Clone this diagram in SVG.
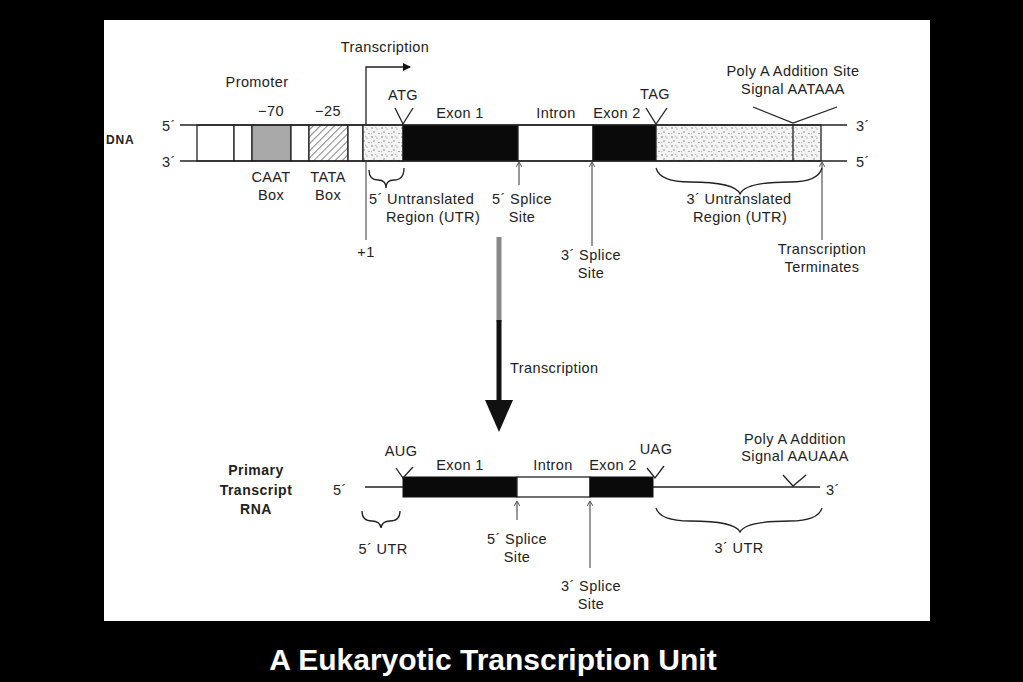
<svg xmlns="http://www.w3.org/2000/svg" width="1023" height="682" viewBox="0 0 1023 682">
<defs>
<style>
text{font-family:"Liberation Sans",Arial,sans-serif;font-size:14.5px;letter-spacing:0.4px;fill:#222}
.c{text-anchor:middle}
.b{font-weight:bold}
.ln{stroke:#222;stroke-width:1.3;fill:none}
.thin{stroke:#333;stroke-width:1;fill:none}
.blk{fill:#0a0a0a;stroke:#111}
.wht{fill:#fff;stroke:#222;stroke-width:1.3}
</style>
<pattern id="stip" width="10" height="9" patternUnits="userSpaceOnUse">
<rect width="10" height="9" fill="#f4f4f4"/>
<circle cx="2" cy="2" r="0.7" fill="#555"/><circle cx="7" cy="3" r="0.6" fill="#777"/>
<circle cx="4" cy="6" r="0.7" fill="#666"/><circle cx="9" cy="7.5" r="0.6" fill="#555"/>
<path d="M5 1 l1.5 0.8 M1 8 l1.2-0.8" stroke="#888" stroke-width="0.6"/>
</pattern>
<pattern id="hatch" width="5" height="5" patternUnits="userSpaceOnUse" patternTransform="rotate(45)">
<rect width="5" height="5" fill="#fff"/><line x1="0" y1="0" x2="0" y2="5" stroke="#333" stroke-width="1.2"/>
</pattern>
<marker id="ah" markerWidth="8" markerHeight="8" refX="7" refY="4" orient="auto" markerUnits="userSpaceOnUse">
<path d="M0 0 L8 4 L0 8 Z" fill="#111"/>
</marker>
<marker id="sa" markerWidth="6" markerHeight="6" refX="3" refY="1" orient="0" markerUnits="userSpaceOnUse">
<path d="M0 5 L3 0 L6 5" fill="none" stroke="#333" stroke-width="0.8"/>
</marker>
</defs>
<rect width="1023" height="682" fill="#000"/>
<rect x="104" y="20" width="826" height="601" fill="#fff"/>
<text x="493" y="670" class="c b" style="font-size:30px;letter-spacing:0;fill:#fff">A Eukaryotic Transcription Unit</text>

<g id="dna">
<text x="106" y="144" class="b" style="font-size:12px;letter-spacing:0.8px">DNA</text>
<text x="162" y="131">5´</text>
<text x="162" y="167">3´</text>
<text x="856" y="131">3´</text>
<text x="856" y="167">5´</text>
<rect x="197" y="125" width="37" height="36" class="wht"/>
<rect x="234" y="125" width="18" height="36" class="wht"/>
<rect x="252" y="125" width="39" height="36" fill="#a8a8a8" stroke="#222" stroke-width="1.3"/>
<rect x="291" y="125" width="18" height="36" class="wht"/>
<rect x="309" y="125" width="39" height="36" fill="url(#hatch)" stroke="#222" stroke-width="1.3"/>
<rect x="348" y="125" width="15" height="36" class="wht"/>
<rect x="363" y="125" width="40" height="36" fill="url(#stip)" stroke="#222" stroke-width="1.3"/>
<rect x="403" y="125" width="115" height="36" class="blk"/>
<rect x="518" y="125" width="75" height="36" class="wht"/>
<rect x="593" y="125" width="63" height="36" class="blk"/>
<rect x="656" y="125" width="165" height="36" fill="url(#stip)" stroke="#222" stroke-width="1.3"/>
<line x1="793" y1="125" x2="793" y2="161" class="ln"/>
<line x1="180" y1="125" x2="847" y2="125" class="ln"/>
<line x1="180" y1="161" x2="847" y2="161" class="ln"/>
</g>

<g id="promoter">
<text x="257" y="87" class="c">Promoter</text>
<text x="271" y="116" class="c">−70</text>
<text x="328" y="116" class="c">−25</text>
<text x="271" y="182" class="c">CAAT</text>
<text x="271" y="200" class="c">Box</text>
<text x="328" y="182" class="c">TATA</text>
<text x="328" y="200" class="c">Box</text>
</g>

<g id="tss">
<text x="385" y="52" class="c">Transcription</text>
<text x="366" y="257" class="c">+1</text>
<text x="369" y="204">5´ Untranslated</text>
<text x="433" y="222" class="c">Region (UTR)</text>
</g>

<g id="dna-labels">
<text x="403" y="100" class="c">ATG</text>
<text x="460" y="118" class="c">Exon 1</text>
<text x="556" y="118" class="c">Intron</text>
<text x="617" y="118" class="c">Exon 2</text>
<text x="655" y="99" class="c">TAG</text>
<text x="793" y="76" class="c">Poly A Addition Site</text>
<text x="793" y="94" class="c">Signal AATAAA</text>
<text x="522" y="204" class="c">5´ Splice</text>
<text x="522" y="222" class="c">Site</text>
<text x="591" y="260" class="c">3´ Splice</text>
<text x="591" y="278" class="c">Site</text>
<text x="739" y="204" class="c">3´ Untranslated</text>
<text x="740" y="222" class="c">Region (UTR)</text>
<text x="822" y="254" class="c">Transcription</text>
<text x="822" y="272" class="c">Terminates</text>
</g>

<g id="rna">
<text x="256" y="475" class="c b" style="font-size:14px;letter-spacing:0.5px">Primary</text>
<text x="256" y="495" class="c b" style="font-size:14px;letter-spacing:0.5px">Transcript</text>
<text x="256" y="514" class="c b" style="font-size:14px;letter-spacing:0.5px">RNA</text>
<text x="333" y="495">5´</text>
<text x="826" y="495">3´</text>
<line x1="365" y1="487" x2="403" y2="487" class="ln"/>
<line x1="653" y1="487" x2="820" y2="487" class="ln"/>
<rect x="403" y="477" width="114" height="20" class="blk"/>
<rect x="517" y="477" width="73" height="20" class="wht"/>
<rect x="590" y="477" width="63" height="20" class="blk"/>
<text x="401" y="456" class="c">AUG</text>
<text x="460" y="470" class="c">Exon 1</text>
<text x="553" y="470" class="c">Intron</text>
<text x="613" y="470" class="c">Exon 2</text>
<text x="656" y="454" class="c">UAG</text>
<text x="795" y="444" class="c">Poly A Addition</text>
<text x="795" y="461" class="c">Signal AAUAAA</text>
<text x="383" y="554" class="c">5´ UTR</text>
<text x="517" y="544" class="c">5´ Splice</text>
<text x="517" y="562" class="c">Site</text>
<text x="591" y="591" class="c">3´ Splice</text>
<text x="591" y="609" class="c">Site</text>
<text x="739" y="553" class="c">3´ UTR</text>
</g>

<g id="big-arrow">
<rect x="496.5" y="237" width="5" height="85" fill="#888"/>
<rect x="496.5" y="320" width="5" height="82" fill="#111"/>
<path d="M485 400 L513 400 L499 432 Z" fill="#111"/>
<text x="510" y="373">Transcription</text>
</g>

<g id="connectors">
<path d="M366 124 V67 H410" class="ln" marker-end="url(#ah)"/>
<line x1="366" y1="162" x2="366" y2="240" class="thin"/>
<path d="M395 108 L403 124 L413 108" class="ln"/>
<path d="M646 108 L656 124 L667 108" class="ln"/>
<path d="M753 107 L793 123 L837 107" class="ln"/>
<line x1="519" y1="185" x2="519" y2="163" class="thin" marker-end="url(#sa)"/>
<line x1="592" y1="246" x2="592" y2="163" class="thin" marker-end="url(#sa)"/>
<line x1="822" y1="240" x2="822" y2="163" class="thin" marker-end="url(#sa)"/>
<path d="M369 170 Q369 180 378 180 Q386 180 386 188 Q386 180 394 180 Q404 180 404 168" class="ln"/>
<path d="M656 168 Q660 182 690 182 Q735 182 740 194 Q745 182 790 182 Q818 182 822 168" class="ln"/>
<path d="M396 468 L403 478 L413 467" class="ln"/>
<path d="M647 468 L655 478 L664 466" class="ln"/>
<path d="M783 475 L793 486 L806 475" class="ln"/>
<line x1="517" y1="520" x2="517" y2="502" class="thin" marker-end="url(#sa)"/>
<line x1="590" y1="568" x2="590" y2="502" class="thin" marker-end="url(#sa)"/>
<path d="M362 511 Q362 521 372 521 Q380 521 381 528 Q382 521 390 521 Q400 521 400 511" class="ln"/>
<path d="M656 508 Q660 521 690 521 Q735 521 740 532 Q745 521 790 521 Q818 521 822 508" class="ln"/>
</g>
</svg>
